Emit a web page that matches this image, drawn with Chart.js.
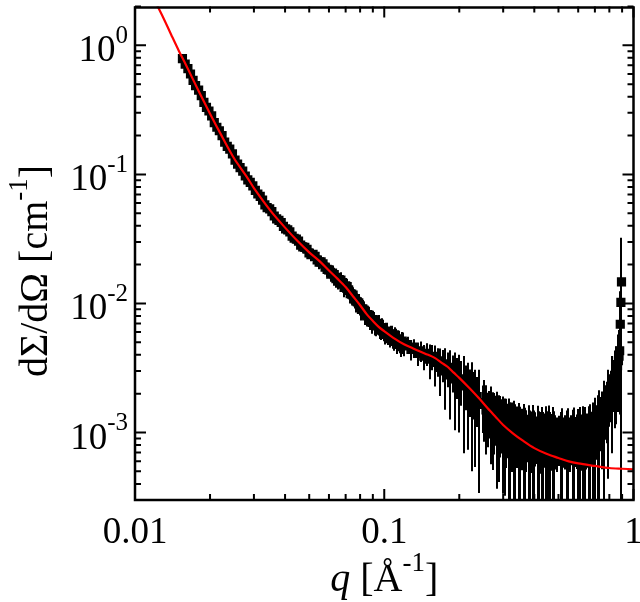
<!DOCTYPE html>
<html lang="en">
<head>
<meta charset="UTF-8">
<title>SANS intensity vs q</title>
<style>
  html, body { margin: 0; padding: 0; background: #fff; }
  #wrap { width: 640px; height: 602px; }
</style>
</head>
<body>
<div id="wrap"><canvas id="chart" width="640" height="602"></canvas></div>
<script src="https://cdn.jsdelivr.net/npm/chart.js"></script>
<script>
// measured points: q [1/A], dSigma/dOmega [1/cm], relative error bar
const qData = [
  0.0155, 0.0159, 0.0163, 0.0167, 0.0171, 0.0175, 0.018, 0.01845, 0.0189, 0.01935,
  0.0198, 0.0203, 0.0208, 0.0213, 0.0218, 0.02235, 0.0229, 0.02345, 0.024, 0.0246,
  0.0252, 0.0258, 0.0264, 0.02705, 0.0277, 0.02835, 0.029, 0.0297, 0.0304,
  0.0311, 0.0318, 0.0325, 0.0332, 0.0339, 0.0347, 0.0354, 0.0362, 0.037, 0.0378,
  0.0386, 0.0394, 0.0402, 0.041, 0.0418, 0.0427, 0.0435, 0.0444, 0.0453, 0.0462,
  0.0471, 0.048, 0.049, 0.0499, 0.0508, 0.0518, 0.0528, 0.0538, 0.0548, 0.0558,
  0.0568, 0.0579, 0.059, 0.06,
  0.061, 0.062, 0.063, 0.064, 0.065, 0.066, 0.067, 0.068, 0.069, 0.07,
  0.071, 0.072, 0.073, 0.074, 0.075, 0.076, 0.077, 0.078, 0.079, 0.08,
  0.081, 0.082, 0.083, 0.084, 0.085, 0.086, 0.087, 0.088, 0.089, 0.09,
  0.091, 0.092, 0.093, 0.094, 0.095, 0.096, 0.097, 0.098, 0.099, 0.1,
  0.101, 0.102, 0.103, 0.104, 0.105, 0.106, 0.107, 0.108, 0.109, 0.11,
  0.111, 0.112, 0.113, 0.114, 0.115, 0.116, 0.117, 0.118, 0.119, 0.12,
  0.124, 0.128, 0.132, 0.136, 0.14, 0.144, 0.148, 0.152, 0.156, 0.16, 0.164, 0.168, 0.172, 0.176, 0.18,
  0.184, 0.188, 0.192, 0.196, 0.2, 0.204, 0.208, 0.212, 0.216, 0.22, 0.224, 0.228, 0.232, 0.236, 0.24,
  0.248, 0.252, 0.256, 0.26, 0.264, 0.268, 0.272, 0.276, 0.28, 0.284, 0.288, 0.292, 0.296, 0.3, 0.304,
  0.308, 0.312, 0.316, 0.32, 0.324, 0.328, 0.332, 0.336, 0.34, 0.344, 0.348, 0.352, 0.356, 0.36, 0.364,
  0.368, 0.372, 0.376, 0.38, 0.384, 0.388, 0.392, 0.396, 0.4, 0.404, 0.408, 0.412, 0.416, 0.42, 0.424,
  0.428, 0.432, 0.436, 0.44, 0.444, 0.448, 0.452, 0.456, 0.46, 0.464, 0.468, 0.472, 0.476, 0.48, 0.484,
  0.495, 0.503, 0.51, 0.518, 0.525, 0.533, 0.54, 0.548, 0.555, 0.563, 0.57, 0.578, 0.585, 0.593,
  0.6, 0.608, 0.615, 0.623, 0.63, 0.638, 0.645, 0.653, 0.66, 0.668, 0.675, 0.683, 0.69, 0.698,
  0.705, 0.713, 0.72, 0.728, 0.735, 0.743, 0.75, 0.758, 0.765, 0.773, 0.78, 0.788, 0.795, 0.803,
  0.81, 0.818, 0.825, 0.833, 0.84, 0.848, 0.855, 0.863, 0.87, 0.875, 0.88, 0.885, 0.89, 0.895
];
const iData = [
  0.79, 0.715, 0.66, 0.6, 0.535, 0.487, 0.45, 0.408, 0.362, 0.331,
  0.31, 0.284, 0.252, 0.232, 0.218, 0.2, 0.178, 0.165, 0.157, 0.144,
  0.129, 0.12, 0.113, 0.106, 0.0972, 0.0908, 0.0868, 0.0815, 0.0752,
  0.0705, 0.0675, 0.0632, 0.058, 0.0552, 0.054, 0.0515, 0.0476, 0.0452, 0.0441,
  0.0424, 0.0395, 0.0378, 0.0372, 0.0359, 0.0333, 0.032, 0.0315, 0.0304, 0.0283,
  0.0274, 0.0272, 0.0263, 0.0247, 0.0239, 0.024, 0.0232, 0.0218, 0.0209, 0.021,
  0.0203, 0.0191, 0.0184, 0.0182,
  0.0169, 0.0172, 0.0167, 0.0156, 0.0149, 0.0153, 0.0152, 0.0141, 0.0133, 0.0137,
  0.0135, 0.0127, 0.0119, 0.0118, 0.0116, 0.0109, 0.0104, 0.0103, 0.0101, 0.0096,
  0.009, 0.0091, 0.0089, 0.0083, 0.008, 0.0082, 0.008, 0.0075, 0.0072, 0.0075,
  0.0074, 0.0069, 0.0067, 0.007, 0.0069, 0.0064, 0.0062, 0.0065, 0.0064, 0.006,
  0.0058, 0.0061, 0.006, 0.0056, 0.0055, 0.0058, 0.0057, 0.0053, 0.0053, 0.0056,
  0.0054, 0.0051, 0.005, 0.0053, 0.0052, 0.0049, 0.0048, 0.0051, 0.005, 0.0047,
  0.0048, 0.0044, 0.0046, 0.0041, 0.0043, 0.0039, 0.0041, 0.0037, 0.0039, 0.0035, 0.0036, 0.0032, 0.0034, 0.003, 0.0032,
  0.0028, 0.003, 0.0026, 0.0028, 0.0025, 0.0026, 0.0023, 0.0024, 0.0021, 0.0022, 0.002, 0.0021, 0.0018, 0.0019, 0.0017,
  0.00165, 0.0017, 0.0015, 0.0014, 0.0015, 0.00142, 0.00128, 0.00135, 0.00136, 0.00122, 0.00118, 0.00128, 0.00125, 0.00112, 0.00108,
  0.00118, 0.00115, 0.00105, 0.00098, 0.0011, 0.00108, 0.00098, 0.00092, 0.00106, 0.00104, 0.00094, 0.00088, 0.00102, 0.001, 0.0009,
  0.00084, 0.00099, 0.00098, 0.00088, 0.0008, 0.00097, 0.00096, 0.00086, 0.00078, 0.00099, 0.00095, 0.00085, 0.00077, 0.00096, 0.00094,
  0.00083, 0.00076, 0.00097, 0.00093, 0.00082, 0.00075, 0.00095, 0.00094, 0.00083, 0.00074, 0.00096, 0.00092, 0.00081, 0.00075, 0.00094,
  0.0009, 0.00095, 0.00074, 0.00079, 0.00092, 0.00094, 0.00076, 0.00077, 0.0009, 0.00096, 0.00075, 0.0008, 0.00093, 0.00095,
  0.00078, 0.00079, 0.00092, 0.00097, 0.0008, 0.00081, 0.00094, 0.00097, 0.00082, 0.00085, 0.00098, 0.001, 0.0009, 0.00098,
  0.00108, 0.00112, 0.00105, 0.00115, 0.00125, 0.0013, 0.0013, 0.0014, 0.0015, 0.0016, 0.00165, 0.00175, 0.00185, 0.002,
  0.00215, 0.0023, 0.0024, 0.0026, 0.0027, 0.0029, 0.0031, 0.0033, 0.0036, 0.0039, 0.0043, 0.0069, 0.0102, 0.0147
];
const relErr = [
  0.03, 0.035, 0.03, 0.04, 0.035, 0.03, 0.03, 0.04, 0.035, 0.03,
  0.03, 0.04, 0.035, 0.035, 0.03, 0.04, 0.035, 0.04, 0.03, 0.04,
  0.04, 0.035, 0.035, 0.045, 0.04, 0.04, 0.035, 0.045, 0.04,
  0.05, 0.05, 0.055, 0.055, 0.06, 0.06, 0.065, 0.065, 0.07, 0.07,
  0.075, 0.07, 0.08, 0.075, 0.085, 0.08, 0.09, 0.085, 0.09, 0.09,
  0.1, 0.095, 0.1, 0.1, 0.11, 0.1, 0.11, 0.11, 0.12, 0.11,
  0.12, 0.12, 0.13, 0.12,
  0.13, 0.14, 0.13, 0.15, 0.14, 0.13, 0.15, 0.14, 0.16, 0.15,
  0.15, 0.14, 0.16, 0.17, 0.15, 0.16, 0.18, 0.16, 0.17, 0.16,
  0.18, 0.17, 0.16, 0.18, 0.17, 0.16, 0.18, 0.17, 0.19, 0.17,
  0.16, 0.18, 0.17, 0.16, 0.18, 0.17, 0.16, 0.18, 0.17, 0.15,
  0.17, 0.16, 0.18, 0.15, 0.17, 0.16, 0.18, 0.16, 0.19, 0.17,
  0.18, 0.16, 0.19, 0.17, 0.18, 0.16, 0.2, 0.18, 0.19, 0.17,
  0.15, 0.18, 0.15, 0.2, 0.18, 0.22, 0.2, 0.3, 0.22, 0.35, 0.25, 0.4, 0.28, 0.5, 0.3,
  0.55, 0.32, 0.6, 0.35, 0.6, 0.38, 0.7, 0.38, 0.65, 0.4, 0.75, 0.4, 0.7, 0.42, 0.8,
  0.4, 0.5, 0.55, 0.45, 0.4, 0.6, 0.6, 0.5, 0.42, 0.7, 0.65, 0.5, 0.45, 0.7, 0.7,
  0.55, 0.45, 0.75, 0.75, 0.55, 0.45, 0.8, 0.8, 0.5, 0.45, 0.8, 0.8, 0.5, 0.42, 0.85,
  0.85, 0.5, 0.4, 0.85, 0.85, 0.5, 0.42, 0.9, 0.9, 0.45, 0.4, 0.9, 0.9, 0.5, 0.42,
  0.9, 0.9, 0.45, 0.4, 0.95, 0.95, 0.5, 0.42, 0.95, 0.95, 0.45, 0.45, 0.95, 0.95, 0.45,
  0.45, 0.42, 0.95, 0.95, 0.42, 0.45, 0.95, 1.0, 0.45, 0.42, 1.0, 0.95, 0.42, 0.45,
  0.95, 1.0, 0.45, 0.42, 1.0, 0.95, 0.45, 0.45, 0.95, 0.95, 0.42, 0.45, 0.9, 0.9,
  0.4, 0.45, 0.85, 0.85, 0.4, 0.45, 0.6, 0.8, 0.4, 0.45, 0.5, 0.75, 0.4, 0.4,
  0.4, 0.7, 0.4, 0.4, 0.6, 0.6, 0.45, 0.45, 0.6, 0.6, 0.55, 0.8, 0.9, 1.2
];

// model curve (red)
const qFit = [0.012, 0.0124, 0.013, 0.014, 0.015, 0.016, 0.018, 0.02, 0.022, 0.025, 0.028, 0.03, 0.035, 0.04, 0.045,
  0.05, 0.055, 0.06, 0.065, 0.07, 0.075, 0.08, 0.085, 0.09, 0.095, 0.1, 0.11, 0.12, 0.13, 0.14, 0.15, 0.16,
  0.17, 0.18, 0.19, 0.2, 0.22, 0.24, 0.26, 0.28, 0.3, 0.33, 0.36, 0.4, 0.45, 0.5, 0.55, 0.6, 0.7, 0.8, 0.9, 1.0];
const iFit = [2.24, 1.963, 1.631, 1.199, 0.905, 0.707, 0.4433, 0.2957, 0.208, 0.1328, 0.0967, 0.0783, 0.0522, 0.0387, 0.0303,
  0.0249, 0.02128, 0.018, 0.0155, 0.01339, 0.01133, 0.00969, 0.00827, 0.00732, 0.00659, 0.0061, 0.00534, 0.00483, 0.0045, 0.00423, 0.004, 0.00377,
  0.00347, 0.00322, 0.00291, 0.00265, 0.0022, 0.00184, 0.00154, 0.00132, 0.001145, 0.000977, 0.000864, 0.000757, 0.000681, 0.000635, 0.000597, 0.000576, 0.000551, 0.000531, 0.000524, 0.000519];

// axes
const xMin = 0.01, xMax = 1;
const yMin = 3e-4, yMax = 2;
const xMajor = [0.01, 0.1, 1];
const xMajorLabels = ['0.01', '0.1', '1'];
const xMinor = [0.02, 0.03, 0.04, 0.05, 0.06, 0.07, 0.08, 0.09, 0.2, 0.3, 0.4, 0.5, 0.6, 0.7, 0.8, 0.9];
const yMajor = [1, 0.1, 0.01, 0.001];
const yMajorExp = ['0', '-1', '-2', '-3'];
const yMinor = [2, 0.9, 0.8, 0.7, 0.6, 0.5, 0.4, 0.3, 0.2,
  0.09, 0.08, 0.07, 0.06, 0.05, 0.04, 0.03, 0.02,
  0.009, 0.008, 0.007, 0.006, 0.005, 0.004, 0.003, 0.002,
  0.0009, 0.0008, 0.0007, 0.0006, 0.0005, 0.0004, 0.0003];

const SERIF = '"Liberation Serif", "Times New Roman", serif';

// draw a row of text pieces (plain / superscript / italic), aligned left, center or right
function drawRuns(ctx, parts, x, y, align, big, small) {
  const font = p => (p.italic ? 'italic ' : '') + (p.sup ? small : big) + 'px ' + SERIF;
  let total = 0;
  parts.forEach(p => { ctx.font = font(p); p.w = ctx.measureText(p.t).width; total += p.w; });
  let cx = align === 'right' ? x - total : align === 'center' ? x - total / 2 : x;
  ctx.textAlign = 'left';
  ctx.textBaseline = 'alphabetic';
  parts.forEach(p => {
    ctx.font = font(p);
    ctx.fillText(p.t, cx, p.sup ? y - big * 0.49 : y);
    cx += p.w;
  });
}

const errorBars = {
  id: 'errorBars',
  beforeDatasetsDraw(chart) {
    const { ctx, chartArea: a, scales: { x, y } } = chart;
    ctx.save();
    ctx.beginPath();
    ctx.rect(a.left, a.top, a.right - a.left, a.bottom - a.top);
    ctx.clip();
    ctx.strokeStyle = '#000';
    ctx.lineWidth = 2;
    ctx.beginPath();
    qData.forEach((q, i) => {
      const px = Math.round(x.getPixelForValue(q));
      const lo = iData[i] * (1 - relErr[i]);
      const hi = iData[i] * (1 + relErr[i]);
      const pLo = lo > 0 ? y.getPixelForValue(lo) : a.bottom + 5;
      ctx.moveTo(px, Math.min(pLo, a.bottom + 5));
      ctx.lineTo(px, y.getPixelForValue(hi));
    });
    ctx.stroke();
    ctx.restore();
  }
};

const frame = {
  id: 'frame',
  afterDraw(chart) {
    const { ctx, chartArea: a, scales: { x, y } } = chart;
    ctx.save();
    ctx.strokeStyle = '#000';
    ctx.fillStyle = '#000';
    ctx.lineWidth = 2;
    ctx.beginPath();
    const tickX = (v, len) => {
      const px = x.getPixelForValue(v);
      ctx.moveTo(px, a.bottom); ctx.lineTo(px, a.bottom - len);
      ctx.moveTo(px, a.top); ctx.lineTo(px, a.top + len);
    };
    const tickY = (v, len) => {
      const py = y.getPixelForValue(v);
      ctx.moveTo(a.left, py); ctx.lineTo(a.left + len, py);
      ctx.moveTo(a.right, py); ctx.lineTo(a.right - len, py);
    };
    xMajor.forEach(v => tickX(v, 11));
    xMinor.forEach(v => tickX(v, 6));
    yMajor.forEach(v => tickY(v, 11));
    yMinor.forEach(v => tickY(v, 6));
    ctx.stroke();

    ctx.lineWidth = 2.5;
    ctx.strokeRect(a.left, a.top + 1, a.right - a.left, a.bottom - a.top - 1);

    // tick labels
    xMajor.forEach((v, i) => {
      drawRuns(ctx, [{ t: xMajorLabels[i] }], x.getPixelForValue(v), a.bottom + 43, 'center', 37, 25);
    });
    yMajor.forEach((v, i) => {
      drawRuns(ctx, [{ t: '10' }, { t: yMajorExp[i], sup: true }], a.left - 7, y.getPixelForValue(v) + 16, 'right', 37, 25);
    });

    // axis titles
    drawRuns(ctx, [{ t: 'q', italic: true }, { t: ' [Å' }, { t: '-1', sup: true }, { t: ']' }],
      (a.left + a.right) / 2, 591, 'center', 40, 27);
    ctx.translate(47, 271);
    ctx.rotate(-Math.PI / 2);
    drawRuns(ctx, [{ t: 'dΣ/dΩ [cm' }, { t: '-1', sup: true }, { t: ']' }], 0, 0, 'center', 40, 27);
    ctx.restore();
  }
};

new Chart(document.getElementById('chart'), {
  type: 'scatter',
  data: {
    datasets: [
      {
        label: 'fit',
        data: qFit.map((q, i) => ({ x: q, y: iFit[i] })),
        showLine: true,
        borderColor: '#ff0000',
        borderWidth: 2.2,
        pointRadius: 0,
        tension: 0.3,
        order: 0
      },
      {
        label: 'data',
        data: qData.map((q, i) => ({ x: q, y: iData[i] })),
        pointStyle: 'rect',
        pointRadius: 6.5,
        backgroundColor: '#000',
        borderColor: '#000',
        borderWidth: 0,
        order: 1
      }
    ]
  },
  options: {
    responsive: false,
    devicePixelRatio: 1,
    animation: false,
    layout: { padding: { left: 135, right: 6, top: 0, bottom: 102 } },
    plugins: { legend: { display: false }, tooltip: { enabled: false } },
    scales: {
      x: { type: 'logarithmic', min: xMin, max: xMax, display: false },
      y: { type: 'logarithmic', min: yMin, max: yMax, display: false }
    }
  },
  plugins: [errorBars, frame]
});
</script>
</body>
</html>
